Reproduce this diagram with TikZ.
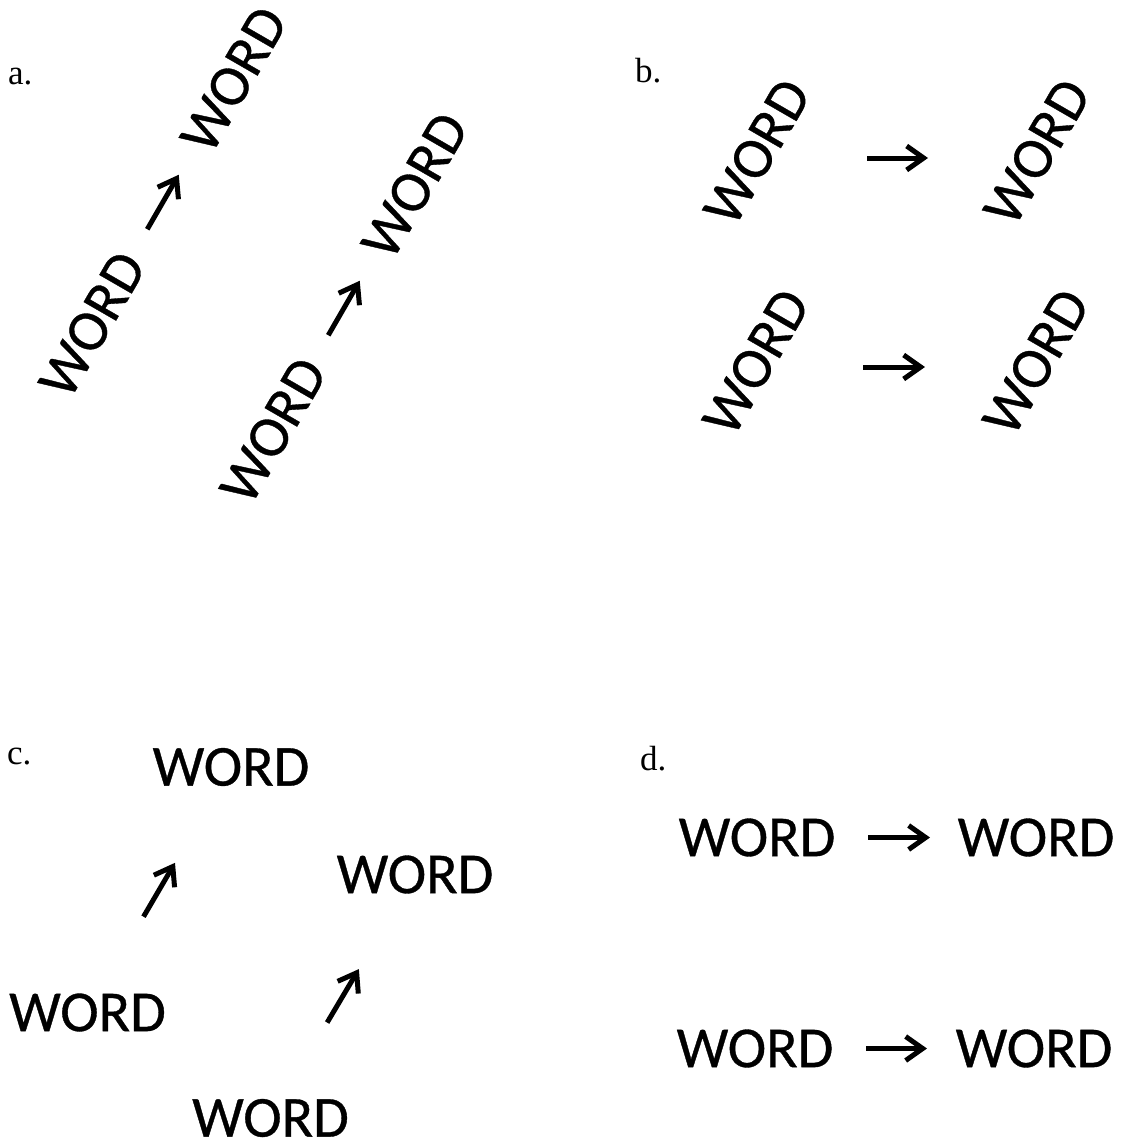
\documentclass[tikz,border=0pt]{standalone}
\usepackage{fontspec}
\setmainfont{Carlito}
\newfontfamily\wordfont[FakeBold=0.6]{Carlito}
\newfontfamily\labelfont{Liberation Serif}
\usetikzlibrary{arrows.meta,calc}

\tikzset{
  word/.style={inner sep=0pt, font=\wordfont\fontsize{58}{70}\selectfont},
  panel/.style={inner sep=0pt, anchor=base west, font=\labelfont\fontsize{35}{40}\selectfont},
  arr/.style={line width=5pt, -{Straight Barb[length=17pt,width=24pt]}},
}

\begin{document}
\begin{tikzpicture}[x=1pt, y=-1pt]
  \useasboundingbox (0,0) rectangle (1130,1144);

  % panel labels
  \node[panel] (la) at (8,84)   {a.};
  \node[panel] (lb) at (635,82) {b.};
  \node[panel] (lc) at (7,764)  {c.};
  \node[panel] (ld) at (640,770) {d.};

  % a: word pairs tilted as a whole
  \node[word, rotate=60] (a1) at (92.25,324.5)  {WORD};
  \node[word, rotate=60] (a2) at (233.75,79.5)  {WORD};
  \node[word, rotate=60] (a3) at (273.25,430.5) {WORD};
  \node[word, rotate=60] (a4) at (414.75,185.5) {WORD};
  \draw[arr, shorten <=110pt, shorten >=110pt] (a1.center) -- (a2.center);
  \draw[arr, shorten <=110pt, shorten >=110pt] (a3.center) -- (a4.center);

  % b: tilted words, level arrows
  \node[word, rotate=60] (b1) at (757,152)  {WORD};
  \node[word, rotate=60] (b2) at (1037,152) {WORD};
  \node[word, rotate=60] (b3) at (756,362)  {WORD};
  \node[word, rotate=60] (b4) at (1036,362) {WORD};
  \draw[arr, shorten <=110pt, shorten >=109pt] ([yshift=-6pt]b1.center) -- ([yshift=-6pt]b2.center);
  \draw[arr, shorten <=107pt, shorten >=111pt] ([yshift=-5pt]b3.center) -- ([yshift=-5pt]b4.center);

  % c: level words, tilted arrows
  \node[word] (c1) at (231,767)    {WORD};
  \node[word] (c2) at (415,874.5)  {WORD};
  \node[word] (c3) at (87.5,1012.5) {WORD};
  \node[word] (c4) at (270.5,1118)  {WORD};
  \draw[arr, shorten <=111pt, shorten >=111pt] (c3.center) -- (c1.center);
  \draw[arr, shorten <=111pt, shorten >=110pt] (c4.center) -- (c2.center);

  % d: level words, level arrows
  \node[word] (d1) at (757,837.5)  {WORD};
  \node[word] (d2) at (1036,837.5) {WORD};
  \node[word] (d3) at (755,1048.5) {WORD};
  \node[word] (d4) at (1034,1048.5) {WORD};
  \draw[arr, shorten <=111pt, shorten >=106pt] (d1.center) -- (d2.center);
  \draw[arr, shorten <=111pt, shorten >=107pt] (d3.center) -- (d4.center);
\end{tikzpicture}
\end{document}
